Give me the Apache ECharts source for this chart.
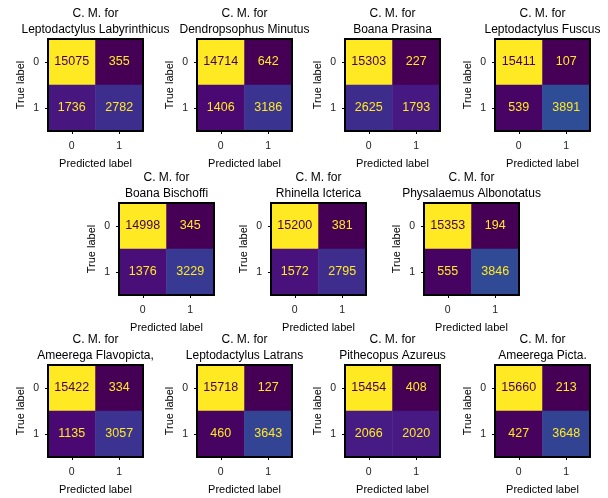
<!DOCTYPE html>
<html>
<head>
<meta charset="utf-8">
<script src="https://cdn.jsdelivr.net/npm/echarts@6/dist/echarts.min.js"></script>
<style>
  html, body { margin: 0; padding: 0; background: #fff; }
  #chart { width: 608px; height: 498px; }
</style>
</head>
<body>
<div id="chart"></div>
<script>
// Confusion matrices, one per species (rows: true label, columns: predicted label)
const species = [
  'Leptodactylus Labyrinthicus', 'Dendropsophus Minutus', 'Boana Prasina', 'Leptodactylus Fuscus',
  'Boana Bischoffi', 'Rhinella Icterica', 'Physalaemus Albonotatus',
  'Ameerega Flavopicta,', 'Leptodactylus Latrans', 'Pithecopus Azureus', 'Ameerega Picta.'
];
const trueNeg  = [15075, 14714, 15303, 15411, 14998, 15200, 15353, 15422, 15718, 15454, 15660];
const falsePos = [355, 642, 227, 107, 345, 381, 194, 334, 127, 408, 213];
const falseNeg = [1736, 1406, 2625, 539, 1376, 1572, 555, 1135, 460, 2066, 427];
const truePos  = [2782, 3186, 1793, 3891, 3229, 2795, 3846, 3057, 3643, 2020, 3648];
const classLabels = ['0', '1'];

// panel placement: rows of 4, 3, 4 panels
const rowTops = [39, 203, 365];
const rowLefts = [[48, 197, 345, 495], [119, 271, 424], [48, 197, 345, 495]];
const boxW = 95, boxH = 92;

// viridis colour stops, given a little extra saturation
const viridisBase = ['#440154', '#471365', '#482475', '#463480', '#414487', '#3b528b', '#355f8d',
  '#2f6c8e', '#2a788e', '#25848e', '#21918c', '#1e9c89', '#22a884', '#2fb47c', '#44bf70',
  '#5ec962', '#7ad151', '#9bd93c', '#bddf26', '#dfe318', '#fde725'];

function saturate(hex, k) {
  let r = parseInt(hex.slice(1, 3), 16) / 255, g = parseInt(hex.slice(3, 5), 16) / 255, b = parseInt(hex.slice(5, 7), 16) / 255;
  const mx = Math.max(r, g, b), mn = Math.min(r, g, b);
  let h = 0, s = 0; const l = (mx + mn) / 2;
  if (mx !== mn) {
    const d = mx - mn;
    s = l > 0.5 ? d / (2 - mx - mn) : d / (mx + mn);
    if (mx === r) h = (g - b) / d + (g < b ? 6 : 0);
    else if (mx === g) h = (b - r) / d + 2;
    else h = (r - g) / d + 4;
    h /= 6;
  }
  s = Math.min(1, s * k);
  const hue2rgb = (p, q, t) => {
    if (t < 0) t += 1; if (t > 1) t -= 1;
    if (t < 1 / 6) return p + (q - p) * 6 * t;
    if (t < 1 / 2) return q;
    if (t < 2 / 3) return p + (q - p) * (2 / 3 - t) * 6;
    return p;
  };
  const q = l < 0.5 ? l * (1 + s) : l + s - l * s, p = 2 * l - q;
  const out = [hue2rgb(p, q, h + 1 / 3), hue2rgb(p, q, h), hue2rgb(p, q, h - 1 / 3)];
  return '#' + out.map(c => Math.round(c * 255).toString(16).padStart(2, '0')).join('');
}
const viridis = viridisBase.map(c => saturate(c, 1.3));
const darkText = viridis[0], lightText = viridis[viridis.length - 1];
const font = "'Liberation Sans', Arial, sans-serif";

const panels = [];
rowLefts.forEach((lefts, r) => lefts.forEach(left => panels.push({ left, top: rowTops[r] })));

const grid = [], xAxis = [], yAxis = [], series = [], visualMap = [], title = [];

species.forEach((name, i) => {
  const p = panels[i];
  const matrix = [[trueNeg[i], falsePos[i]], [falseNeg[i], truePos[i]]];
  const flat = matrix.flat();
  const lo = Math.min(...flat), hi = Math.max(...flat);
  const mid = (lo + hi) / 2;

  grid.push({
    left: p.left, top: p.top, width: boxW, height: boxH,
    show: true, z: 5, backgroundColor: 'transparent',
    borderColor: '#000', borderWidth: 2
  });
  title.push({
    text: 'C. M. for\n' + name,
    left: p.left + boxW / 2, top: p.top - 33, textAlign: 'center', padding: 0,
    textStyle: { fontFamily: font, fontSize: 12, fontWeight: 'normal', color: '#000', lineHeight: 16 }
  });
  xAxis.push({
    type: 'category', gridIndex: i, data: classLabels,
    name: 'Predicted label', nameLocation: 'middle', nameGap: 27,
    nameTextStyle: { fontFamily: font, fontSize: 11, color: '#000' },
    axisLine: { show: false },
    axisTick: { show: true, alignWithLabel: true, length: 3, lineStyle: { color: '#000' } },
    axisLabel: { fontFamily: font, fontSize: 10.5, color: '#222', margin: 10 },
    splitLine: { show: false }
  });
  yAxis.push({
    type: 'category', gridIndex: i, data: classLabels, inverse: true,
    name: 'True label', nameLocation: 'middle', nameGap: 22,
    nameTextStyle: { fontFamily: font, fontSize: 11, color: '#000' },
    axisLine: { show: false },
    axisTick: { show: true, alignWithLabel: true, length: 3, lineStyle: { color: '#000' } },
    axisLabel: { fontFamily: font, fontSize: 10.5, color: '#222', margin: 9 },
    splitLine: { show: false }
  });
  const data = [];
  matrix.forEach((row, t) => row.forEach((v, pr) => {
    data.push({
      value: [pr, t, v],
      label: { color: v > mid ? darkText : lightText }
    });
  }));
  series.push({
    type: 'heatmap', xAxisIndex: i, yAxisIndex: i, data,
    label: {
      show: true, fontFamily: font, fontSize: 12.5,
      formatter: prm => String(prm.value[2])
    },
    emphasis: { disabled: true }
  });
  visualMap.push({
    type: 'continuous', show: false, seriesIndex: i, dimension: 2,
    min: lo, max: hi, inRange: { color: viridis }
  });
});

const chart = echarts.init(document.getElementById('chart'), null, { renderer: 'canvas' });
chart.setOption({
  animation: false,
  backgroundColor: '#fff',
  title, grid, xAxis, yAxis, visualMap, series
});
</script>
</body>
</html>
